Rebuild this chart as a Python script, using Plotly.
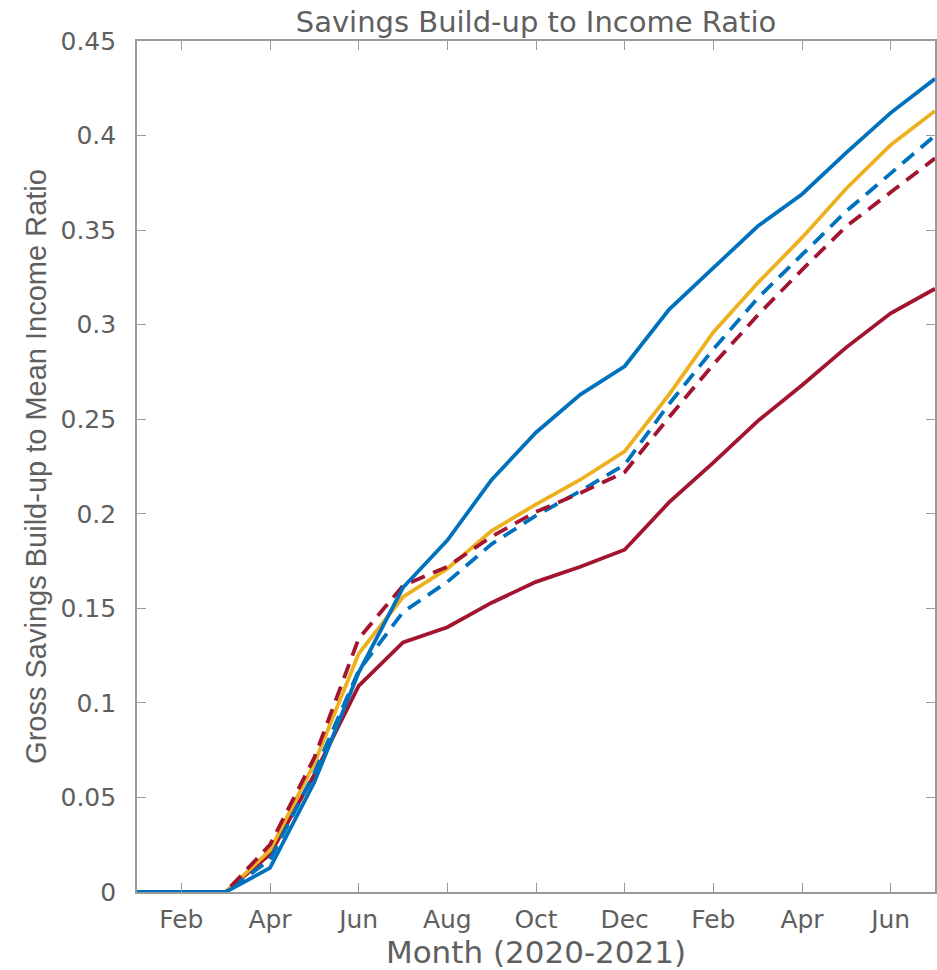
import plotly.graph_objects as go

months = list(range(1, 20))  # Jan 2020 .. Jul 2021
tick_vals = [2, 4, 6, 8, 10, 12, 14, 16, 18]
tick_text = ["Feb", "Apr", "Jun", "Aug", "Oct", "Dec", "Feb", "Apr", "Jun"]
y_tick_vals = [0, 0.05, 0.1, 0.15, 0.2, 0.25, 0.3, 0.35, 0.4, 0.45]
y_tick_text = ["0", "0.05", "0.1", "0.15", "0.2", "0.25", "0.3", "0.35", "0.4", "0.45"]

blue_solid = [0, 0, 0, 0.0127, 0.058, 0.116, 0.161, 0.186, 0.218, 0.243, 0.263, 0.278,
              0.308, 0.330, 0.352, 0.369, 0.391, 0.412, 0.430]
yellow = [0, 0, 0, 0.022, 0.068, 0.126, 0.156, 0.171, 0.191, 0.205, 0.218, 0.233,
          0.263, 0.296, 0.322, 0.346, 0.372, 0.395, 0.413]
blue_dashed = [0, 0, 0, 0.017, 0.063, 0.117, 0.148, 0.164, 0.184, 0.199, 0.212, 0.226,
               0.258, 0.287, 0.314, 0.337, 0.360, 0.380, 0.400]
red_dashed = [0, 0, 0, 0.025, 0.071, 0.134, 0.162, 0.172, 0.188, 0.201, 0.211, 0.222,
              0.251, 0.279, 0.305, 0.329, 0.352, 0.370, 0.388]
red_solid = [0, 0, 0, 0.020, 0.062, 0.109, 0.132, 0.140, 0.153, 0.164, 0.172, 0.181,
             0.206, 0.227, 0.249, 0.268, 0.288, 0.306, 0.319]

BLUE = "#0072BD"
YELLOW = "#EDB120"
RED = "#A2142F"
DASH = "15px,9px"

fig = go.Figure()
series = [
    (red_solid, RED, "solid"),
    (yellow, YELLOW, "solid"),
    (blue_dashed, BLUE, DASH),
    (red_dashed, RED, DASH),
    (blue_solid, BLUE, "solid"),
]
for ys, col, dash in series:
    fig.add_trace(go.Scatter(x=months, y=ys, mode="lines",
                             line=dict(color=col, width=3.8, dash=dash),
                             showlegend=False, hoverinfo="skip", cliponaxis=True))

WIDE = "DejaVu Sans, Verdana, sans-serif"
REG = "Liberation Sans, Arial, sans-serif"
TXT = "#5f5f5f"
AX = "#9a9a9a"

W, H = 937, 970
fig.update_layout(
    width=W, height=H,
    margin=dict(l=137, r=2, t=41, b=78, autoexpand=False),
    paper_bgcolor="white", plot_bgcolor="white",
    font=dict(family=WIDE, color=TXT, size=25),
    title=dict(text="Savings Build-up to Income Ratio", x=(137 + 935) / 2 / W,
               xanchor="center", xref="container", yref="container",
               y=1 - 22 / H, yanchor="middle",
               font=dict(family=WIDE, size=29, color=TXT)),
)
fig.update_xaxes(range=[1, 19], tickvals=tick_vals, ticktext=tick_text,
                 ticks="inside", ticklen=9, tickcolor=AX, tickwidth=1.3,
                 showline=True, linecolor=AX, linewidth=1.6, mirror="ticks",
                 showgrid=False, zeroline=False, automargin=False,
                 ticklabelstandoff=4,
                 tickfont=dict(family=WIDE, size=25, color=TXT),
                 title=dict(text="Month (2020-2021)",
                            font=dict(family=WIDE, size=31, color=TXT), standoff=10))
fig.update_yaxes(range=[0, 0.45], tickvals=y_tick_vals, ticktext=y_tick_text,
                 ticks="inside", ticklen=9, tickcolor=AX, tickwidth=1.3,
                 showline=True, linecolor=AX, linewidth=1.6, mirror="ticks",
                 showgrid=False, zeroline=False, automargin=False,
                 ticklabelstandoff=14,
                 tickfont=dict(family=WIDE, size=25, color=TXT),
                 title=dict(text="Gross Savings Build-up to Mean Income Ratio",
                            font=dict(family=REG, size=29, color=TXT), standoff=5))

fig.write_html("out.html", config={"displayModeBar": False},
               post_script="document.body.style.margin='0';document.body.style.overflow='hidden';")
